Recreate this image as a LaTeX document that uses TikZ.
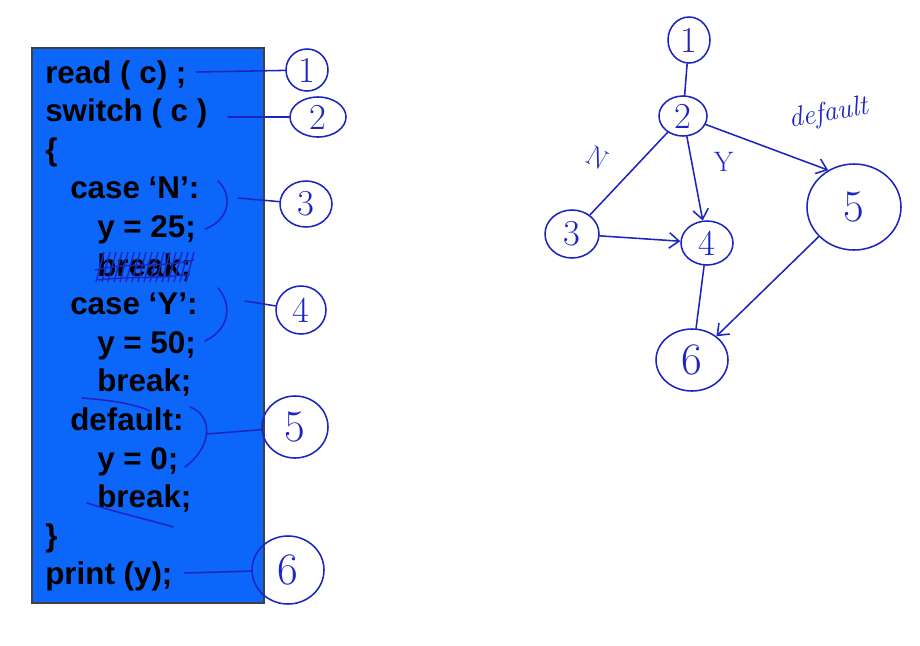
\documentclass[tikz,border=0pt]{standalone}
\usepackage{fontspec}
\newfontfamily\codefont{Liberation Sans}
\usetikzlibrary{arrows.meta,shapes.geometric}
\definecolor{keyblue}{RGB}{12,102,250}
\definecolor{ink}{RGB}{28,38,190}
\tikzstyle{codeline}=[anchor=base west, inner sep=0pt, font=\codefont\bfseries\fontsize{22.3}{26}\selectfont]
\tikzstyle{blob}=[ellipse, draw=ink, line width=1.1pt, inner sep=0pt, text=ink, font=\fontsize{26}{30}\selectfont]
\tikzstyle{big}=[font=\fontsize{32}{36}\selectfont]
\tikzstyle{inkline}=[draw=ink, line width=1.1pt, line cap=round]
\tikzstyle{flow}=[inkline, -{Straight Barb[length=7pt,width=11pt]}]
\tikzstyle{edgetext}=[text=ink, font=\fontsize{20}{24}\selectfont]
\tikzset{wh/.style 2 args={minimum width=#1*0.025cm, minimum height=#2*0.025cm}}
\newcommand{\codeline}{\node[codeline]}
\newcommand{\blob}{\node[blob]}

\begin{document}
\begin{tikzpicture}[x=0.025cm, y=-0.025cm, every edge/.style={inkline}]
\useasboundingbox (0,0) rectangle (920,645);
% the code
\fill[keyblue, draw=black!75, line width=0.8pt] (32,48) rectangle (264,603);
\codeline (l1) at (45,83) {read ( c) ;};
\codeline (l2) at (45,121.6) {switch ( c )};
\codeline (l3) at (45,160.2) {\{};
\codeline (l4) at (70,198.8) {case ‘N’:};
\codeline (l5) at (97,237.4) {y = 25;};
\codeline (l6) at (97,276) {break;};
\codeline (l7) at (70,314.6) {case ‘Y’:};
\codeline (l8) at (97,353.2) {y = 50;};
\codeline (l9) at (97,391.8) {break;};
\codeline (l10) at (70,430.4) {default:};
\codeline (l11) at (97,469) {y = 0;};
\codeline (l12) at (97,507.6) {break;};
\codeline (l13) at (45,546.2) {\}};
\codeline (l14) at (45,584.8) {print (y);};
% pen marks on the code
\foreach \i in {0,...,15}
  \draw[ink, line width=1pt] (96+6*\i,282) -- (104+6*\i,252);
\draw[ink, line width=1pt] (95,270) .. controls (130,262) and (160,268) .. (194,260);
\draw[ink, line width=1pt] (98,280) .. controls (130,276) and (160,279) .. (190,274);
\draw[inkline] (82,398) .. controls (110,400) and (135,404) .. (150,411);
\draw[inkline] (87,503) .. controls (115,512) and (150,520) .. (173,527);
\draw[inkline] (218,181) .. controls (233,195) and (230,220) .. (205,229);
\draw[inkline] (218,288) .. controls (233,305) and (229,330) .. (205,341);
\draw[inkline] (190,407) .. controls (212,415) and (214,445) .. (185,467);
% statement numbers
\blob (c1) at (307,70) [wh={42}{42}] {1};
\blob (c2) at (318,117) [wh={56}{40}] {2};
\blob (c3) at (306,204) [wh={52}{46}] {3};
\blob (c4) at (301,310) [wh={50}{48}] {4};
\blob (c5) at (295,427) [wh={66}{62}, big] {5};
\blob (c6) at (288,570) [wh={72}{68}, big] {6};
\coordinate (s1) at (197,72);
\coordinate (s2) at (228,117);
\coordinate (b3) at (238,198);
\coordinate (b4) at (245,301);
\coordinate (b5) at (207,434);
\coordinate (s6) at (185,573);
\path (s1) edge (c1) (s2) edge (c2) (b3) edge (c3)
(b4) edge (c4) (b5) edge (c5) (s6) edge (c6);
% flow graph
\blob (g1) at (689,40) [wh={42}{46}] {1};
\blob (g2) at (683,116) [wh={48}{40}] {2};
\blob (g3) at (572,234) [wh={54}{48}] {3};
\blob (g4) at (707,243) [wh={52}{44}] {4};
\blob (g5) at (854,207) [wh={94}{86}, big] {5};
\blob (g6) at (692,360) [wh={72}{62}, big] {6};
\path
(g2) edge (g1) edge node [pos=.4, left=18pt, edgetext, rotate=-30] {N} (g3)
 edge[flow] node [pos=.3, right=12pt, edgetext] {Y} (g4)
 edge[flow] node [pos=.9, above=24pt, xshift=11pt, edgetext, rotate=10] {\itshape default} (g5.125)
(g3) edge[flow] (g4)
(g4) edge (g6)
(g5.220) edge[flow] (g6)
;
\end{tikzpicture}
\end{document}
